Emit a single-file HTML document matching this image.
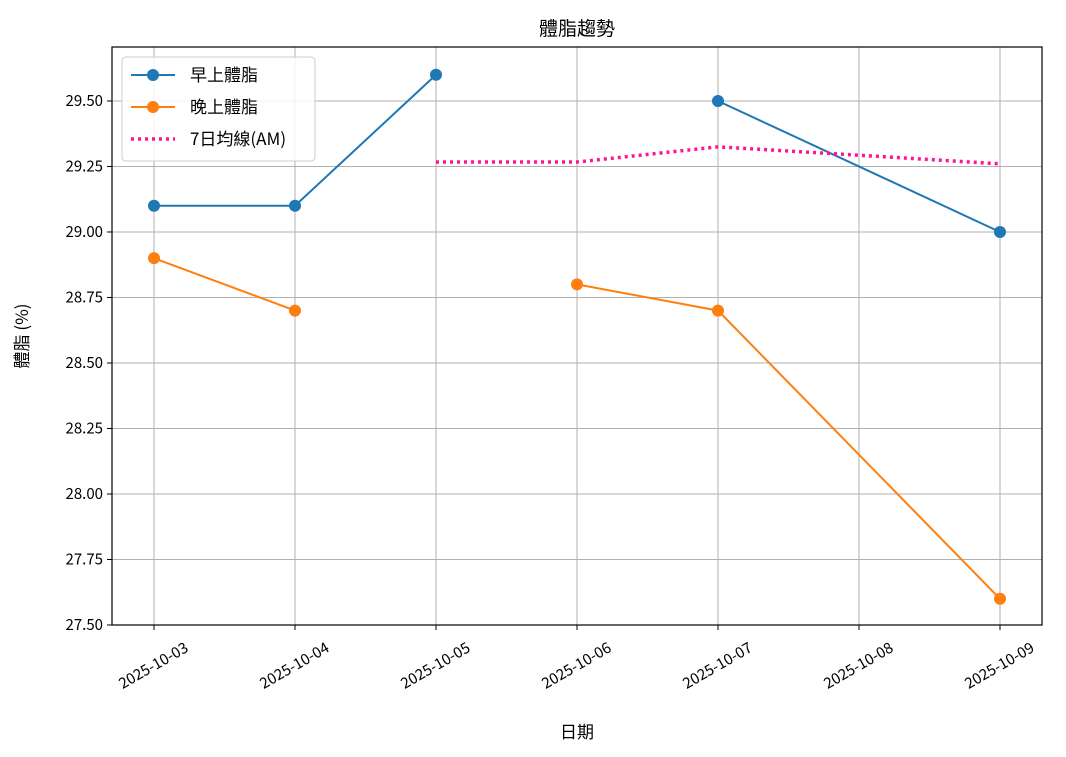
<!DOCTYPE html>
<html><head><meta charset="utf-8">
<style>
body{margin:0;background:#fff;}
svg{display:block;font-family:"Noto Sans CJK TC","Liberation Sans",sans-serif;}
</style></head>
<body>
<svg id="chart" width="1066" height="757" viewBox="0 0 1066 757" xmlns="http://www.w3.org/2000/svg"></svg>
<script>
const dates = ["2025-10-03","2025-10-04","2025-10-05","2025-10-06","2025-10-07","2025-10-08","2025-10-09"];
const amDates = ["2025-10-03","2025-10-04","2025-10-05","2025-10-06","2025-10-07","2025-10-09"];
const amValues = [29.1,29.1,29.6,null,29.5,29.0];
const pmDates = ["2025-10-03","2025-10-04","2025-10-05","2025-10-06","2025-10-07","2025-10-09"];
const pmValues = [28.9,28.7,null,28.8,28.7,27.6];
const maDates = ["2025-10-05","2025-10-06","2025-10-07","2025-10-08","2025-10-09"];
const maValues = [29.267,29.267,29.325,29.293,29.26];
const yTicks = [27.5,27.75,28.0,28.25,28.5,28.75,29.0,29.25,29.5];

const L=112,R=1042,T=47,B=625;
const yMin=27.5,yMax=29.706;
const x0=154,xStep=141;
function xs(d){return x0+dates.indexOf(d)*xStep;}
function ys(v){return B-(v-yMin)/(yMax-yMin)*(B-T);}
const svg=document.getElementById('chart');
const NS="http://www.w3.org/2000/svg";
function el(tag,attrs,parent){const e=document.createElementNS(NS,tag);for(const k in attrs)e.setAttribute(k,attrs[k]);(parent||svg).appendChild(e);return e;}

const grid=el('g',{});


dates.forEach(d=>{el('line',{x1:xs(d),x2:xs(d),y1:T,y2:B,stroke:'#b0b0b0','stroke-width':1},grid);});
yTicks.forEach(v=>{el('line',{x1:L,x2:R,y1:ys(v),y2:ys(v),stroke:'#b0b0b0','stroke-width':1},grid);});

dates.forEach(d=>{
  el('line',{x1:xs(d),x2:xs(d),y1:B,y2:B+5,stroke:'#000'});
  const t=el('text',{x:0,y:0,'font-size':15,'text-anchor':'middle',transform:`translate(${xs(d)+2},${B+45}) rotate(-30)`});
  t.textContent=d;
  
  
});
yTicks.forEach(v=>{
  el('line',{x1:L-5,x2:L,y1:ys(v),y2:ys(v),stroke:'#000'});
  const t=el('text',{x:L-9,y:ys(v)+5,'font-size':15,'text-anchor':'end'});
  t.textContent=v.toFixed(2);
  
  
});

function series(ds,vs,color,name,markers,dash,w){
  const g=el('g',{});
  
  
  let seg=[];
  const segs=[];
  ds.forEach((d,i)=>{if(vs[i]===null){if(seg.length)segs.push(seg);seg=[];}else seg.push([xs(d),ys(vs[i])]);});
  if(seg.length)segs.push(seg);
  segs.forEach(s=>{if(s.length>1){const a={points:s.map(p=>p.join(',')).join(' '),fill:'none',stroke:color,'stroke-width':w};if(dash)a['stroke-dasharray']=dash;el('polyline',a,g);}});
  if(markers)ds.forEach((d,i)=>{if(vs[i]!==null){const c=el('circle',{cx:xs(d),cy:ys(vs[i]),r:6,fill:color},g);}});
}
series(amDates,amValues,'#1f77b4','am-series',true,null,2);
series(pmDates,pmValues,'#ff7f0e','pm-series',true,null,2);
series(maDates,maValues,'#ff1493','ma7-series',false,'3,4',3.5);

el('rect',{x:L,y:T,width:R-L,height:B-T,fill:'none',stroke:'#000','stroke-width':1.2});

let t=el('text',{x:(L+R)/2,y:35,'font-size':19,'text-anchor':'middle'});t.textContent='體脂趨勢';

t=el('text',{x:(L+R)/2,y:738,'font-size':17,'text-anchor':'middle'});t.textContent='日期';

t=el('text',{x:0,y:0,'font-size':17,'text-anchor':'middle',transform:`translate(28,${(T+B)/2}) rotate(-90)`});t.textContent='體脂 (%)';


const lg=el('g',{});


el('rect',{x:122,y:57,width:193,height:104,rx:4,fill:'#fff','fill-opacity':0.85,stroke:'#ccc'},lg);
const items=[['早上體脂','#1f77b4',true,null],['晚上體脂','#ff7f0e',true,null],['7日均線(AM)','#ff1493',false,'3,4']];
items.forEach((it,i)=>{
  const y=75+i*32;
  const a={x1:131,x2:175,y1:y,y2:y,stroke:it[1],'stroke-width':it[3]?3.5:2};
  if(it[3])a['stroke-dasharray']=it[3];
  el('line',a,lg);
  if(it[2])el('circle',{cx:153,cy:y,r:6,fill:it[1]},lg);
  const tx=el('text',{x:190,y:y+6,'font-size':17},lg);tx.textContent=it[0];
  
  
});
</script>
</body></html>
